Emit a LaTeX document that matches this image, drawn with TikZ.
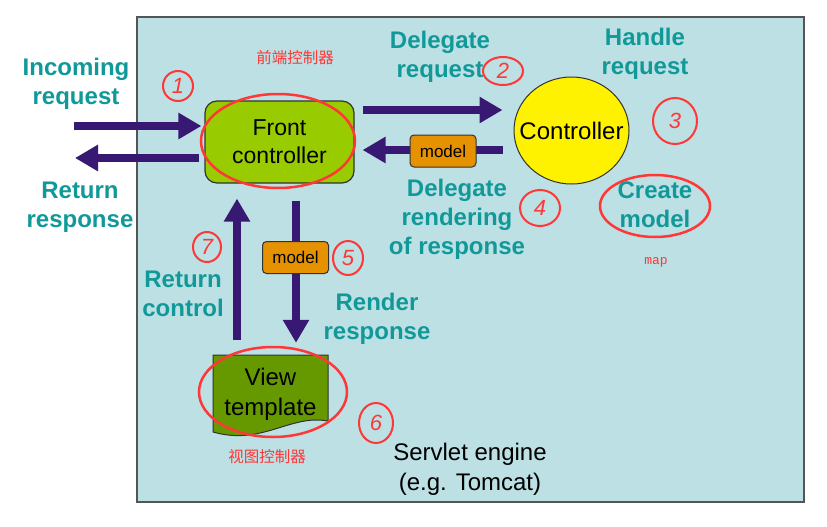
\documentclass[tikz,border=0pt]{standalone}
\usepackage{fontspec}
\setmainfont{Liberation Sans}
\setsansfont{Liberation Sans}
\setmonofont{Liberation Mono}
\newfontfamily\cjk{Noto Sans CJK SC}
\usetikzlibrary{arrows.meta,calc,shapes.geometric,positioning}
\definecolor{enginebg}{RGB}{188,224,227}
\definecolor{engineline}{RGB}{85,85,85}
\definecolor{darkline}{RGB}{50,50,50}
\definecolor{arrowpurple}{RGB}{55,25,115}
\definecolor{tealtxt}{RGB}{17,153,153}
\definecolor{frontgreen}{RGB}{153,204,0}
\definecolor{viewgreen}{RGB}{102,153,0}
\definecolor{modelorange}{RGB}{230,145,0}
\definecolor{handred}{RGB}{255,55,55}
\tikzset {
  >={Triangle[length=23pt,width=25pt]},
  every node/.style={font=\sffamily},
  bigarrow/.style={->,line width=8.5pt,draw=arrowpurple},
  tealtext/.style={text=tealtxt,align=center,font=\sffamily\bfseries\fontsize{24}{29}\selectfont},
  blacktext/.style={align=center,font=\sffamily\fontsize{24}{30}\selectfont},
  frontbox/.style={rectangle,rounded corners=12pt,fill=frontgreen,draw=darkline,line width=1.2pt,
    minimum width=149pt,minimum height=82pt,align=center,font=\sffamily\fontsize{23}{28}\selectfont},
  ctrlball/.style={ellipse,fill=yellow,draw=darkline,line width=1pt,
    minimum width=115pt,minimum height=107pt,inner sep=0pt,font=\sffamily\fontsize{24}{28}\selectfont},
  modelbox/.style={rectangle,rounded corners=4pt,fill=modelorange,draw=darkline,line width=1pt,
    minimum width=66pt,minimum height=32pt,inner sep=0pt,font=\sffamily\fontsize{17}{20}\selectfont},
  redring/.style={draw=handred,line width=2.5pt},
  redtext/.style={text=handred},
  scribble/.style={ellipse,draw=handred,line width=2pt,text=handred,inner sep=0pt,
    font=\rmfamily\itshape\fontsize{22}{22}\selectfont},
}
\begin{document}
\begin{tikzpicture}[x=1pt,y=-1pt]
  \useasboundingbox[fill=white] (0,0) rectangle (827,527);
  \draw[fill=enginebg,draw=engineline,line width=2pt] (137,17) rectangle (804,502);
  \node[frontbox] (front) at (279.5,142) {Front\\controller};
  \node[ctrlball] (ctrl) at (571.5,130.5) {\makebox[0pt]{Controller}};
  \draw[fill=viewgreen,draw=darkline,line width=1pt] (213,355) -- (328,355) -- (328,421)
    .. controls (290,414) and (262,446) .. (213,432) -- cycle;
  \node[blacktext,minimum width=115pt,minimum height=78pt] (view) at (270.5,394) {View\\template};
  \coordinate (inc) at (74,126);
  \coordinate (ret) at (75,158);
  \coordinate (fwd) at (0,110);
  \coordinate (back) at (0,150);
  \coordinate (down) at (296,0);
  \coordinate (up) at (237,0);
  \draw[bigarrow,shorten >=3pt] (inc) -- (inc -| front.west);
  \draw[bigarrow,shorten <=5pt] (ret -| front.west) -- (ret);
  \draw[bigarrow,shorten <=8pt,shorten >=11pt] (front.east |- fwd) -- (ctrl.west |- fwd);
  \draw[bigarrow,shorten <=11pt,shorten >=8pt] (ctrl.west |- back) -- (front.east |- back);
  \draw[bigarrow,shorten <=17pt,shorten >=12pt] (down |- front.south) -- (down |- view.north);
  \draw[bigarrow,shorten <=15pt,shorten >=15pt] (up |- view.north) -- (up |- front.south);
  \node[modelbox] (model1) at (443,151) {model};
  \node[modelbox] (model2) at (295.5,257.5) {model};
  \node[tealtext] (incoming) at (76,84) {Incoming\\request};
  \node[tealtext] (response) at (80,207) {Return\\response};
  \node[tealtext] (delegate) at (440,57) {Delegate\\request};
  \node[tealtext] (handle) at (645,54) {Handle\\request};
  \node[tealtext] (rendering) at (457,219) {Delegate\\rendering\\of response};
  \node[tealtext] (create) at (655,205) {Create\\model};
  \node[tealtext] (control) at (183,294) {Return\\control};
  \node[tealtext] (render) at (377,319) {Render\\response};
  \node[blacktext] (engine) at (470,469) {Servlet engine\\(e.g. Tomcat)};
  \node[redtext,font=\cjk\fontsize{15.5}{18}\selectfont] (frontcn) at (295,58) {前端控制器};
  \node[redtext,font=\cjk\fontsize{15.5}{18}\selectfont] (viewcn) at (267,457) {视图控制器};
  \node[redtext,font=\ttfamily\fontsize{13}{15}\selectfont] (map) at (656,262) {map};
  \draw[redring] (278,141) ellipse [x radius=77,y radius=47];
  \draw[redring] (273,392) ellipse [x radius=74,y radius=45];
  \draw[redring] (655,206) ellipse [x radius=55,y radius=31];
  \node[scribble,minimum width=30pt,minimum height=30pt] (s1) at (178,86) {1};
  \node[scribble,minimum width=40pt,minimum height=28pt] (s2) at (503,71) {2};
  \node[scribble,minimum width=44pt,minimum height=46pt] (s3) at (675,121) {3};
  \node[scribble,minimum width=40pt,minimum height=36pt] (s4) at (540,208) {4};
  \node[scribble,minimum width=30pt,minimum height=34pt] (s5) at (348,258) {5};
  \node[scribble,minimum width=34pt,minimum height=40pt] (s6) at (376,423) {6};
  \node[scribble,minimum width=28pt,minimum height=30pt] (s7) at (207,247) {7};
\end{tikzpicture}
\end{document}
